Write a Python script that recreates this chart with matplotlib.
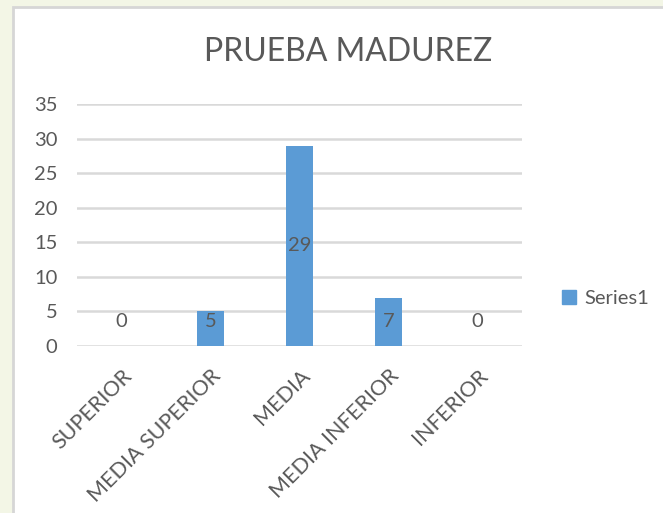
import matplotlib.pyplot as plt
from matplotlib.patches import Rectangle, Patch

# données
categories = ['SUPERIOR', 'MEDIA SUPERIOR', 'MEDIA', 'MEDIA INFERIOR', 'INFERIOR']
valeurs = [0, 5, 29, 7, 0]
serie = 'Series1'

plt.rcParams['font.family'] = ['Lato', 'DejaVu Sans']
gris = '#595959'
bleu = '#5B9BD5'

fig = plt.figure(figsize=(6.63, 5.13), dpi=100)
fig.patch.set_facecolor('#f3f6e6')

# cadre blanc du graphique
fig.patches.append(Rectangle((13 / 663, -0.1), 1.1, 1 - 7 / 513 + 0.1, transform=fig.transFigure,
                             facecolor='white', edgecolor='#d6d6d6', linewidth=2, zorder=-5))

ax = fig.add_axes([0.116, 0.3255, 0.671, 0.4717])
ax.set_facecolor('none')
x = range(len(categories))
ax.bar(x, valeurs, width=0.31, color=bleu, zorder=2)

# étiquettes de données
for i, v in enumerate(valeurs):
    ax.text(i, max(v / 2, 3.5), str(v), ha='center', va='center', fontsize=14.5, color=gris, zorder=3)

ax.set_xlim(-0.5, len(categories) - 0.5)
ax.set_ylim(0, 35)
ax.set_yticks(range(0, 36, 5))
ax.yaxis.grid(True, color='#d9d9d9', linewidth=1.8)
ax.set_axisbelow(True)
for s in ax.spines.values():
    s.set_visible(False)
ax.tick_params(length=0, labelsize=14.5, colors=gris, pad=14)
ax.tick_params(axis='x', pad=14)
ax.set_xticks(list(x))
ax.set_xticklabels(categories, rotation=45, ha='right', rotation_mode='anchor', fontsize=15.5)

fig.text(0.525, 0.899, 'PRUEBA MADUREZ', ha='center', va='center', fontsize=23, color=gris)

fig.legend(handles=[Patch(color=bleu, label=serie)], loc='center left',
           bbox_to_anchor=(0.82, 0.419), frameon=False, fontsize=14.5, labelcolor=gris,
           handlelength=0.7, handleheight=0.7, handletextpad=0.4)

plt.savefig('out.png', dpi=100, facecolor=fig.get_facecolor())
